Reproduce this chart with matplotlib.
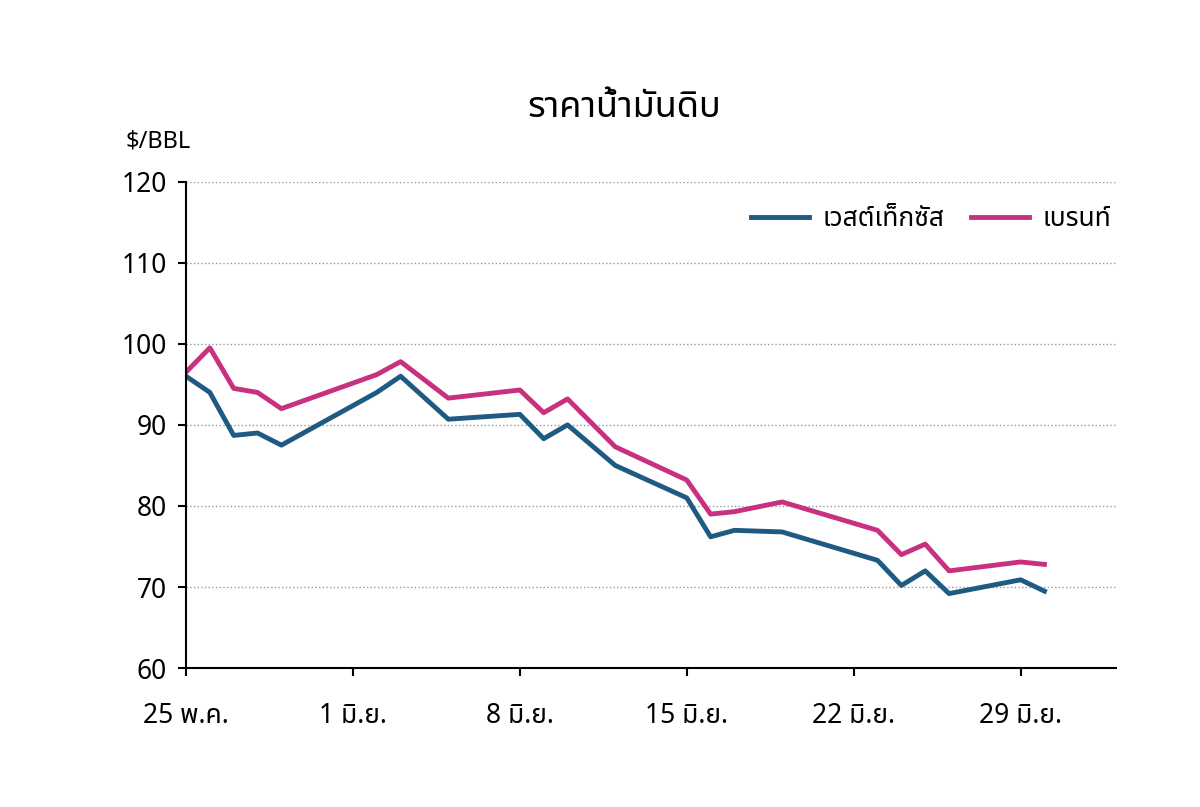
import matplotlib.pyplot as plt
import numpy as np

plt.rcParams['font.family'] = ['Noto Sans Thai', 'Loma', 'Garuda', 'Tlwg Typo', 'DejaVu Sans']

# วันนับจาก 25 พ.ค.
days = [0, 1, 2, 3, 4, 8, 9, 11, 14, 15, 16, 18, 21, 22, 23, 25, 29, 30, 31, 32, 35, 36]
wti = [96, 94, 88.7, 89, 87.5, 94, 96, 90.7, 91.3, 88.3, 90, 85, 81, 76.2, 77, 76.8,
       73.3, 70.2, 72, 69.2, 70.9, 69.5]
brent = [96.5, 99.5, 94.5, 94, 92, 96.2, 97.8, 93.3, 94.3, 91.5, 93.2, 87.3, 83.2, 79,
         79.3, 80.5, 77, 74, 75.3, 72, 73.1, 72.8]
tick_pos = [0, 7, 14, 21, 28, 35]
tick_labels = ['25 พ.ค.', '1 มิ.ย.', '8 มิ.ย.', '15 มิ.ย.', '22 มิ.ย.', '29 มิ.ย.']

fig, ax = plt.subplots(figsize=(12, 8.07), dpi=100)
fig.subplots_adjust(left=0.155, right=0.93, top=0.775, bottom=0.172)

ax.plot(days, wti, color='#1f5a82', lw=3.5, label='เวสต์เท็กซัส')
ax.plot(days, brent, color='#c8317f', lw=3.5, label='เบรนท์')

ax.set_xlim(0, 39)
ax.set_ylim(60, 120)
ax.set_yticks(range(60, 121, 10))
ax.set_xticks(tick_pos)
ax.set_xticklabels(tick_labels)
ax.tick_params(labelsize=19, width=1.5, length=6)
ax.tick_params(axis='x', pad=18)
ax.tick_params(axis='y', pad=8)
for lab in ax.get_xticklabels() + ax.get_yticklabels():
    lab.set_fontweight('bold')
ax.yaxis.grid(True, linestyle=':', color='#999999', lw=1)
for s in ['top', 'right']:
    ax.spines[s].set_visible(False)
ax.spines['left'].set_linewidth(1.5)
ax.spines['bottom'].set_linewidth(1.5)

ax.text(-0.03, 1.07, '$/BBL', transform=ax.transAxes, fontsize=17, fontweight='bold', ha='center')
fig.text(0.52, 0.855, 'ราคาน้ำมันดิบ', fontsize=26, fontweight='bold', ha='center')
ax.legend(loc='upper right', bbox_to_anchor=(1.02, 1.0), ncol=2, frameon=False,
          fontsize=19, handlelength=2.2, columnspacing=1.0, handletextpad=0.5)

plt.savefig('out.png')
